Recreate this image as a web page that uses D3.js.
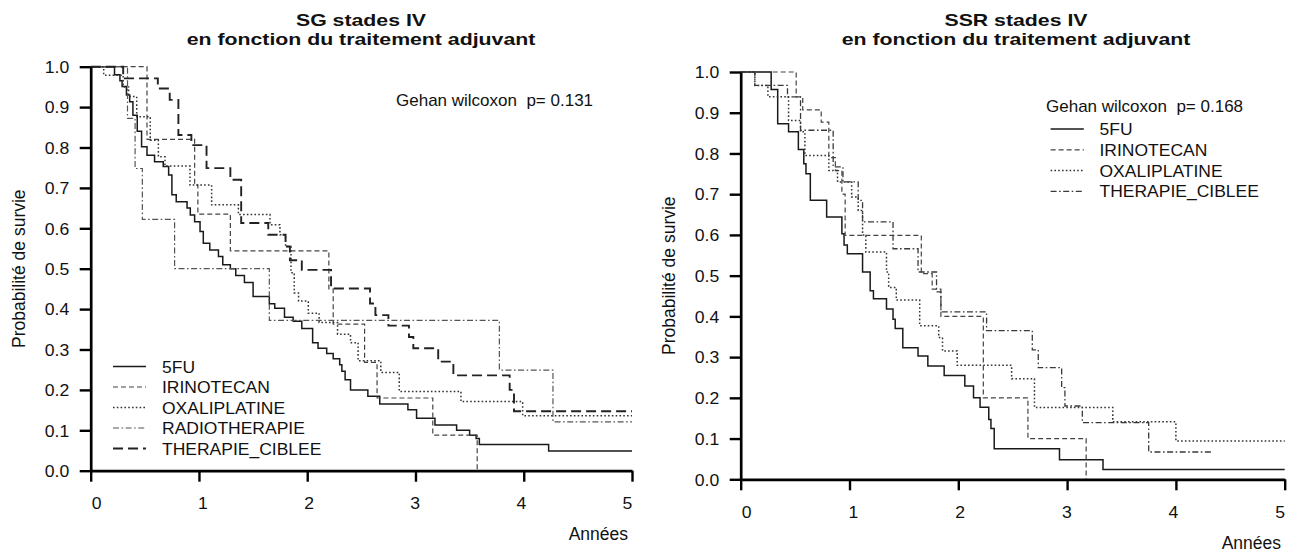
<!DOCTYPE html>
<html><head><meta charset="utf-8">
<script src="https://cdn.jsdelivr.net/npm/d3@7"></script>
<style>
html,body{margin:0;padding:0;background:#fff;}
svg{display:block;font-family:"Liberation Sans",Arial,sans-serif;}
text{white-space:pre;}
</style></head><body>
<svg id="chart" width="1296" height="552"></svg>
<script>
// ---------- DATA ----------
const xTicks = [0, 1, 2, 3, 4, 5];
const yTicks = [0, 0.1, 0.2, 0.3, 0.4, 0.5, 0.6, 0.7, 0.8, 0.9, 1.0];
const yTickLabels = ["0.0","0.1","0.2","0.3","0.4","0.5","0.6","0.7","0.8","0.9","1.0"];

const sgTitle = ["SG stades IV", "en fonction du traitement adjuvant"];
const ssrTitle = ["SSR stades IV", "en fonction du traitement adjuvant"];
const sgTest = "Gehan wilcoxon  p= 0.131";
const ssrTest = "Gehan wilcoxon  p= 0.168";
const xLabel = "Années";
const yLabel = "Probabilité de survie";

const sgCategories = ["5FU", "IRINOTECAN", "OXALIPLATINE", "RADIOTHERAPIE", "THERAPIE_CIBLEE"];
const ssrCategories = ["5FU", "IRINOTECAN", "OXALIPLATINE", "THERAPIE_CIBLEE"];

// [years, survival probability] step points
const sg5FU = [[0,1],[0.22,0.98],[0.27,0.965],[0.29,0.951],[0.33,0.93],[0.36,0.913],[0.39,0.88],[0.43,0.84],[0.47,0.802],[0.52,0.781],[0.59,0.765],[0.67,0.753],[0.72,0.732],[0.75,0.683],[0.79,0.666],[0.89,0.65],[0.92,0.633],[0.96,0.616],[1.01,0.592],[1.04,0.563],[1.10,0.546],[1.18,0.53],[1.22,0.51],[1.29,0.50],[1.34,0.483],[1.42,0.466],[1.50,0.431],[1.65,0.413],[1.70,0.402],[1.79,0.38],[1.87,0.37],[1.95,0.352],[2.05,0.317],[2.10,0.303],[2.18,0.29],[2.24,0.277],[2.30,0.262],[2.32,0.246],[2.35,0.225],[2.40,0.20],[2.56,0.184],[2.67,0.165],[2.93,0.151],[3.01,0.13],[3.18,0.113],[3.38,0.10],[3.50,0.088],[3.56,0.08],[3.59,0.065],[4.23,0.049],[5,0.049]];
const sgIrinotecan = [[0,1],[0.52,0.82],[0.96,0.707],[0.99,0.635],[1.29,0.544],[2.20,0.45],[2.24,0.363],[2.53,0.268],[2.645,0.18],[3.16,0.088],[3.57,0]];
const sgOxaliplatine = [[0,1],[0.12,0.979],[0.30,0.95],[0.35,0.926],[0.425,0.876],[0.55,0.818],[0.625,0.777],[0.686,0.754],[0.917,0.707],[1.117,0.658],[1.364,0.634],[1.656,0.609],[1.748,0.584],[1.80,0.555],[1.85,0.49],[1.88,0.44],[1.92,0.42],[2.01,0.39],[2.11,0.367],[2.28,0.338],[2.40,0.317],[2.47,0.272],[2.68,0.243],[2.85,0.196],[3.42,0.171],[3.99,0.136],[5,0.136]];
const sgRadiotherapie = [[0,1],[0.34,0.872],[0.41,0.748],[0.477,0.622],[0.775,0.50],[1.65,0.372],[3.775,0.249],[4.27,0.121],[5,0.121]];
const sgTherapieCiblee = [[0,1],[0.30,0.971],[0.62,0.946],[0.73,0.918],[0.81,0.831],[0.93,0.806],[1.07,0.749],[1.29,0.72],[1.39,0.613],[1.64,0.584],[1.80,0.555],[1.84,0.521],[1.95,0.497],[2.22,0.451],[2.58,0.414],[2.63,0.385],[2.75,0.359],[2.94,0.331],[2.98,0.303],[3.21,0.27],[3.35,0.236],[3.87,0.20],[3.91,0.147],[5,0.147]];

const ssr5FU = [[0,1],[0.28,0.957],[0.34,0.873],[0.44,0.853],[0.53,0.81],[0.58,0.775],[0.60,0.75],[0.64,0.685],[0.79,0.644],[0.93,0.603],[0.95,0.575],[0.98,0.554],[1.12,0.509],[1.19,0.463],[1.22,0.443],[1.34,0.418],[1.40,0.393],[1.42,0.37],[1.49,0.323],[1.63,0.303],[1.72,0.278],[1.87,0.255],[2.06,0.229],[2.14,0.20],[2.20,0.177],[2.28,0.147],[2.30,0.125],[2.33,0.075],[2.93,0.048],[3.33,0.024],[5,0.024]];
const ssrIrinotecan = [[0,1],[0.51,0.939],[0.57,0.907],[0.74,0.877],[0.81,0.79],[0.87,0.758],[0.93,0.70],[0.96,0.599],[1.66,0.505],[1.76,0.467],[1.84,0.40],[2.23,0.20],[2.64,0.10],[3.175,0]];
const ssrOxaliplatine = [[0,1],[0.13,0.967],[0.25,0.939],[0.44,0.881],[0.55,0.853],[0.59,0.795],[0.81,0.758],[0.89,0.73],[1.02,0.693],[1.08,0.66],[1.12,0.60],[1.15,0.558],[1.34,0.509],[1.36,0.471],[1.43,0.44],[1.645,0.377],[1.82,0.348],[1.855,0.315],[1.99,0.28],[2.49,0.247],[2.70,0.176],[3.42,0.141],[4.0,0.094],[5,0.094]];
const ssrTherapieCiblee = [[0,1],[0.13,0.967],[0.43,0.939],[0.55,0.857],[0.85,0.767],[0.94,0.73],[1.08,0.685],[1.12,0.632],[1.40,0.566],[1.63,0.509],[1.80,0.46],[1.84,0.411],[2.26,0.365],[2.68,0.318],[2.735,0.274],[2.95,0.225],[2.98,0.18],[3.14,0.139],[3.75,0.067],[4.34,0.067]];

// ---------- STYLES ----------
const lineStyles = {
  "5FU":            {dash: null,            width: 1.5, color: "#1a1a1a"},
  "IRINOTECAN":     {dash: "5,3",           width: 1.2, color: "#444"},
  "OXALIPLATINE":   {dash: "1.6,2.2",       width: 1.5, color: "#333"},
  "RADIOTHERAPIE":  {dash: "6,2.5,1.6,2.5", width: 1.2, color: "#555"},
  "THERAPIE_CIBLEE":{dash: "10,5",          width: 1.9, color: "#222"}
};
const ssrStyles = Object.assign({}, lineStyles, {
  "THERAPIE_CIBLEE": {dash: "6,2.5,1.6,2.5", width: 1.3, color: "#3a3a3a"}
});

const panels = [
  {
    title: sgTitle, test: sgTest, categories: sgCategories,
    series: [sg5FU, sgIrinotecan, sgOxaliplatine, sgRadiotherapie, sgTherapieCiblee],
    styles: lineStyles,
    x0: 90.7, x1: 632, y0: 470.7, y1: 66.7,
    titleX: 361, titleY: [25.5, 44.5],
    testPos: [396, 106],
    legend: {lx1: 113, lx2: 146, tx: 162, y: 366.5, dy: 20.5},
    xLab: [628, 540], yLab: [25, 268.7],
    xTickY: 509
  },
  {
    title: ssrTitle, test: ssrTest, categories: ssrCategories,
    series: [ssr5FU, ssrIrinotecan, ssrOxaliplatine, ssrTherapieCiblee],
    styles: ssrStyles,
    x0: 740.7, x1: 1284.7, y0: 479.3, y1: 72,
    titleX: 1016, titleY: [26, 45],
    testPos: [1046, 111.5],
    legend: {lx1: 1050.6, lx2: 1083.8, tx: 1099.5, y: 129, dy: 20.8},
    xLab: [1281, 549], yLab: [675, 275.7],
    xTickY: 517.5
  }
];

const svg = d3.select("#chart");

function addText(g, x, y, str, size, anchor, opts = {}) {
  const sx = opts.sx || 1;
  const rot = opts.rotate ? ` rotate(${opts.rotate})` : "";
  return g.append("text")
    .attr("transform", `translate(${x},${y})${rot} scale(${sx},1)`)
    .attr("text-anchor", anchor)
    .attr("xml:space", "preserve")
    .style("font-size", size + "px")
    .style("font-weight", opts.bold ? "bold" : "normal")
    .attr("fill", "#111")
    .text(str);
}

panels.forEach(p => {
  const g = svg.append("g");
  const x = d3.scaleLinear().domain([0, 5]).range([p.x0, p.x1]);
  const y = d3.scaleLinear().domain([0, 1]).range([p.y0, p.y1]);
  const xLabelPos = d3.scaleLinear().domain([0, 5]).range([p.x0 + 5.5, p.x1 - 5]);

  // curves
  const line = d3.line().x(d => x(d[0])).y(d => y(d[1])).curve(d3.curveStepAfter);
  p.series.forEach((data, i) => {
    const st = p.styles[p.categories[i]];
    g.append("path")
      .attr("d", line(data))
      .attr("fill", "none")
      .attr("stroke", st.color)
      .attr("stroke-width", st.width)
      .attr("stroke-dasharray", st.dash);
  });

  // axes
  const yAxis = d3.axisLeft(y).tickValues(yTicks).tickSize(11).tickSizeOuter(0).tickFormat((d, i) => yTickLabels[i]);
  const gy = g.append("g").attr("transform", `translate(${p.x0},0)`).call(yAxis);
  const xAxis = d3.axisBottom(x).tickValues(xTicks).tickSize(11).tickSizeOuter(0).tickFormat(d3.format("d"));
  const gx = g.append("g").attr("transform", `translate(0,${p.y0})`).call(xAxis);
  [gy, gx].forEach(a => {
    a.select(".domain").attr("stroke", "#000").attr("stroke-width", 2.7);
    a.selectAll(".tick line").attr("stroke", "#000").attr("stroke-width", 2.4);
    a.selectAll("text").remove();
  });
  gy.selectAll(".tick").append("text")
    .attr("transform", "translate(-21.5,0) scale(1.1,1)")
    .attr("dy", "0.36em")
    .attr("text-anchor", "end")
    .attr("fill", "#111")
    .style("font-size", "16px")
    .text((d, i) => yTickLabels[i]);
  gx.selectAll(".tick").append("text")
    .attr("transform", d => `translate(${xLabelPos(d) - x(d)},${p.xTickY - p.y0}) scale(1.1,1)`)
    .attr("text-anchor", "middle")
    .attr("fill", "#111")
    .style("font-size", "16px")
    .text(d => d);

  // titles
  addText(g, p.titleX, p.titleY[0], p.title[0], 16.5, "middle", {bold: true, sx: 1.29});
  addText(g, p.titleX, p.titleY[1], p.title[1], 16.5, "middle", {bold: true, sx: 1.29});

  // axis labels
  addText(g, p.xLab[0], p.xLab[1], xLabel, 17.5, "end");
  addText(g, p.yLab[0], p.yLab[1], yLabel, 17.5, "middle", {rotate: -90});

  // test text
  addText(g, p.testPos[0], p.testPos[1], p.test, 17, "start");

  // legend
  p.categories.forEach((c, i) => {
    const st = p.styles[c];
    const ly = p.legend.y + i * p.legend.dy;
    g.append("line")
      .attr("x1", p.legend.lx1).attr("x2", p.legend.lx2)
      .attr("y1", ly).attr("y2", ly)
      .attr("stroke", st.color)
      .attr("stroke-width", st.width)
      .attr("stroke-dasharray", st.dash);
    addText(g, p.legend.tx, ly + 6, c, 16.5, "start", {sx: 1.06});
  });
});
</script>
</body></html>
